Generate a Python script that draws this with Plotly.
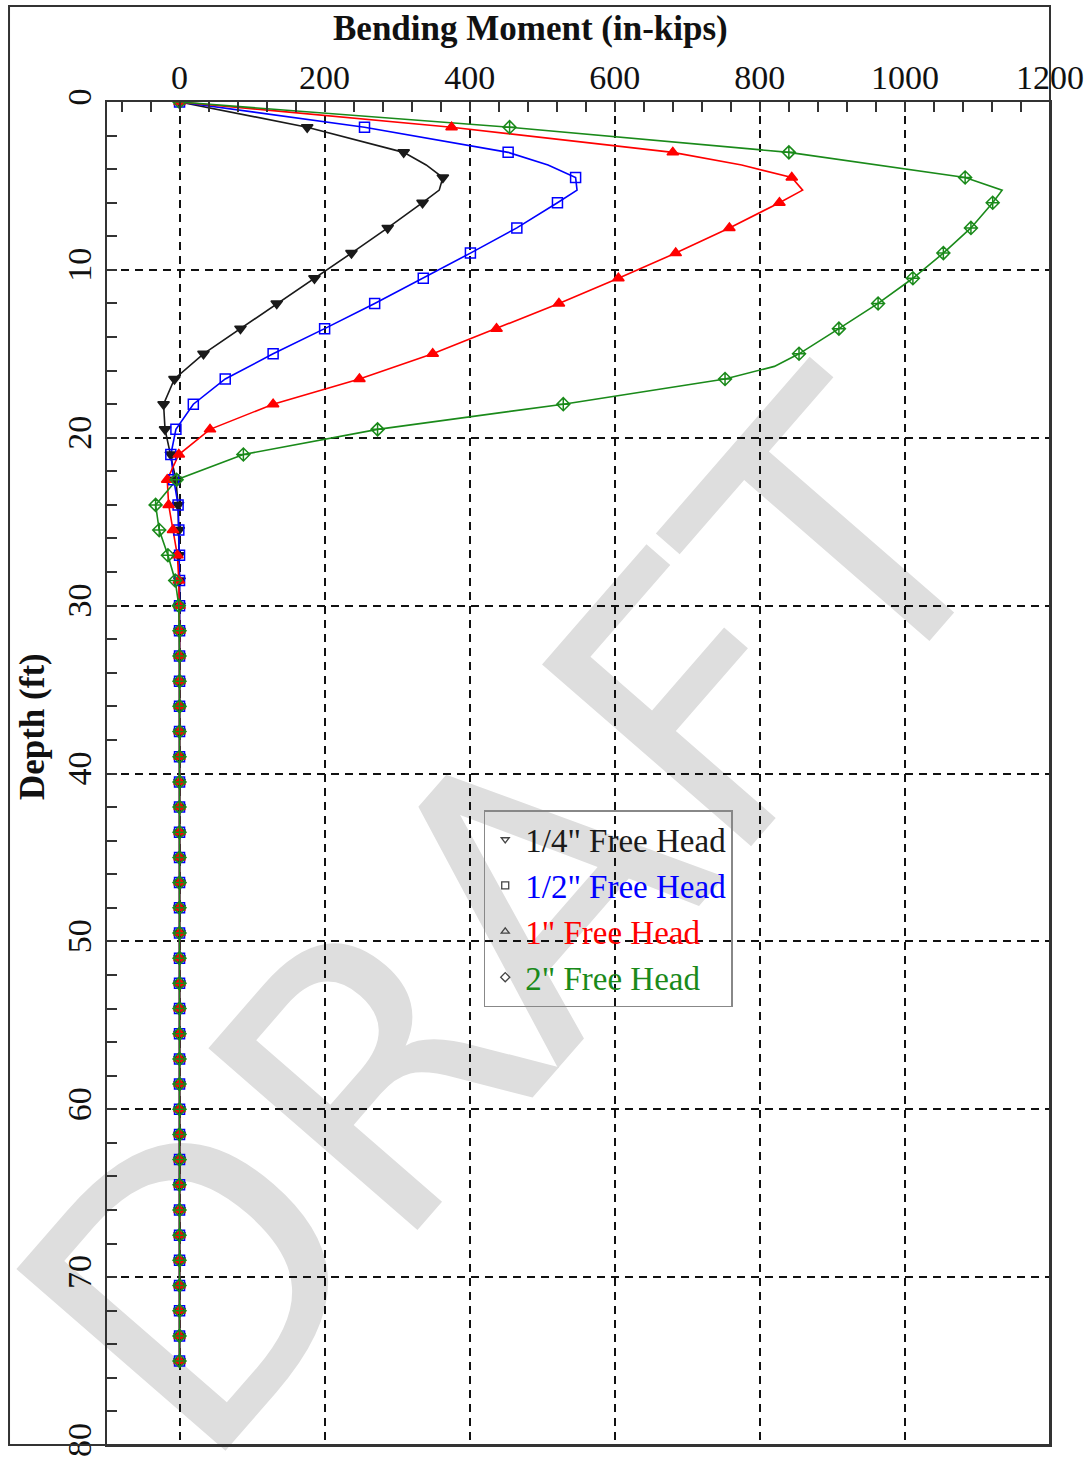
import plotly.graph_objects as go

# ---------------- data ----------------
depth_ft = [0, 1.5, 3, 4.5, 6, 7.5, 9, 10.5, 12, 13.5, 15, 16.5, 18, 19.5, 21, 22.5, 24, 25.5, 27, 28.5,
            30, 31.5, 33, 34.5, 36, 37.5, 39, 40.5, 42, 43.5, 45, 46.5, 48, 49.5, 51, 52.5, 54, 55.5,
            57, 58.5, 60, 61.5, 63, 64.5, 66, 67.5, 69, 70.5, 72, 73.5, 75]

moment_quarter = [0, 176, 309, 363, 335, 287, 237, 186, 134, 84, 33, -7, -22, -20, -12, -5, -2, -1, -1, 0,
                  0, 0, 0, 0, 0, 0, 0, 0, 0, 0, 0, 0, 0, 0, 0, 0, 0, 0,
                  0, 0, 0, 0, 0, 0, 0, 0, 0, 0, 0, 0, 0]
moment_half = [0, 255, 453, 546, 521, 465, 401, 336, 269, 200, 129, 63, 19, -5, -12, -8, -2, -1, 0, 0,
               0, 0, 0, 0, 0, 0, 0, 0, 0, 0, 0, 0, 0, 0, 0, 0, 0, 0,
               0, 0, 0, 0, 0, 0, 0, 0, 0, 0, 0, 0, 0]
moment_one = [0, 375, 680, 844, 827, 758, 684, 605, 523, 437, 349, 248, 129, 42, -1, -17, -15, -9, -3, -1,
              0, 0, 0, 0, 0, 0, 0, 0, 0, 0, 0, 0, 0, 0, 0, 0, 0, 0,
              0, 0, 0, 0, 0, 0, 0, 0, 0, 0, 0, 0, 0]
moment_two = [0, 455, 840, 1083, 1121, 1091, 1053, 1011, 963, 909, 854, 752, 529, 273, 88, -4, -33, -28, -16, -6,
              -1, 0, 0, 0, 0, 0, 0, 0, 0, 0, 0, 0, 0, 0, 0, 0, 0, 0,
              0, 0, 0, 0, 0, 0, 0, 0, 0, 0, 0, 0, 0]

# extra (unmarked) points of the drawn curves
extra_depth_quarter = [3.75, 5.25]
extra_moment_quarter = [340, 358]
extra_depth_half = [3.75, 5.25]
extra_moment_half = [508, 548]
extra_depth_one = [3.75, 5.25]
extra_moment_one = [775, 859]
extra_depth_two = [5.25, 15.75]
extra_moment_two = [1134, 820]

series_names = ['1/4" Free Head', '1/2" Free Head', '1" Free Head', '2" Free Head']
x_tick_vals = [0, 200, 400, 600, 800, 1000, 1200]
y_tick_vals = [0, 10, 20, 30, 40, 50, 60, 70, 80]

# ---------------- styling ----------------
colors = ['#1a1a1a', '#0000ff', '#ff0000', '#1a8a1a']
symbols = ['triangle-down', 'square-open', 'triangle-up', 'diamond-cross-open']
legend_symbols = ['triangle-down-open', 'square-open', 'triangle-up-open', 'diamond-open']
SERIF = 'Liberation Serif, Times New Roman, serif'

fig = go.Figure()

all_series = [
    (moment_quarter, extra_depth_quarter, extra_moment_quarter),
    (moment_half, extra_depth_half, extra_moment_half),
    (moment_one, extra_depth_one, extra_moment_one),
    (moment_two, extra_depth_two, extra_moment_two),
]

for i, (vals, ed, em) in enumerate(all_series):
    pts = sorted(list(zip(depth_ft, vals)) + list(zip(ed, em)))
    fig.add_trace(go.Scatter(
        x=[p[1] for p in pts], y=[p[0] for p in pts], mode='lines',
        line=dict(color=colors[i], width=1.6), showlegend=False, hoverinfo='skip'))

for i, (vals, ed, em) in enumerate(all_series):
    fig.add_trace(go.Scatter(
        x=vals, y=depth_ft, mode='markers',
        marker=dict(symbol=symbols[i], size=10, color=colors[i],
                    line=dict(color=colors[i], width=1.5)),
        showlegend=False, name=series_names[i]))

for i in range(4):
    fig.add_trace(go.Scatter(
        x=[None], y=[None], mode='markers',
        marker=dict(symbol=legend_symbols[i], size=7, color='#444',
                    line=dict(color='#444', width=1.3)),
        name='<span style="color:%s">%s</span>' % (colors[i], series_names[i]),
        legendgroup='g%d' % i, showlegend=True))

axis_common = dict(
    showline=True, linecolor='#333', linewidth=2, mirror=True,
    ticks='inside', ticklen=10, tickwidth=1.5, tickcolor='#333',
    showgrid=True, gridcolor='#111', gridwidth=1.5, griddash='8px,6px',
    zeroline=False, automargin=False,
    tickfont=dict(family=SERIF, size=34, color='#111'),
)

fig.update_xaxes(
    side='top', range=[-100, 1200], tickmode='array', tickvals=x_tick_vals,
    minor=dict(dtick=40, tick0=0, ticks='inside', ticklen=10, tickwidth=1.5,
               tickcolor='#333', showgrid=False),
    ticklabelstandoff=-3,
    **axis_common)

fig.update_yaxes(
    range=[80, 0], tickmode='array', tickvals=y_tick_vals, tickangle=-90,
    minor=dict(dtick=2, tick0=0, ticks='inside', ticklen=10, tickwidth=1.5,
               tickcolor='#333', showgrid=False),
    **axis_common)

# outer frame
fig.add_shape(type='rect', xref='paper', yref='paper', x0=-0.1039, x1=1, y0=0, y1=1.0715,
              line=dict(color='#333', width=2), fillcolor='rgba(0,0,0,0)', layer='above')

# watermark (behind the grid and data)
fig.add_shape(type='rect', xref='paper', yref='paper', x0=0.306, x1=0.506, y0=0.302, y1=0.502,
              line=dict(width=0), fillcolor='rgba(0,0,0,0)', layer='below',
              label=dict(text='DRAFT', textangle=-49, textposition='middle center',
                         font=dict(family='DejaVu Sans, sans-serif', size=380, color='#dedede')))

# axis titles (centred on the outer frame)
fig.add_annotation(text='<b>Bending Moment (in-kips)</b>', xref='paper', yref='paper',
                   x=0.4486, y=1.0551, showarrow=False, xanchor='center', yanchor='middle',
                   font=dict(family=SERIF, size=35, color='#111'))
fig.add_annotation(text='<b>Depth (ft)</b>', xref='paper', yref='paper',
                   x=-0.0795, y=0.5346, showarrow=False, xanchor='center', yanchor='middle',
                   textangle=-90, font=dict(family=SERIF, size=35, color='#111'))

fig.update_layout(
    width=1091, height=1463,
    margin=dict(l=107, r=41, t=102, b=18),
    paper_bgcolor='white', plot_bgcolor='rgba(0,0,0,0)',
    showlegend=True,
    legend=dict(x=0.3995, y=0.4728, xanchor='left', yanchor='top',
                bgcolor='rgba(255,255,255,0)', bordercolor='#888', borderwidth=1.5,
                font=dict(family=SERIF, size=33, color='#111'),
                itemwidth=30, tracegroupgap=0),
)

fig.write_html('out.html')
